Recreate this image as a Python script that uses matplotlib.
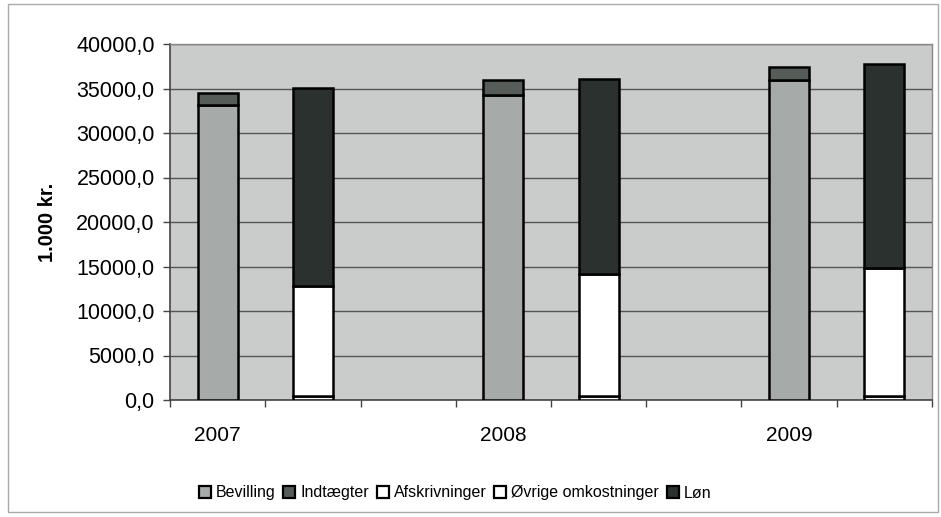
import matplotlib.pyplot as plt
import matplotlib.patches as mpatches
import numpy as np

plt.rcParams['font.family'] = ['Liberation Sans', 'DejaVu Sans']

# data (1.000 kr.)
years = ['2007', '2008', '2009']
bevilling = [33200, 34300, 36000]
indtaegter = [1300, 1600, 1450]
afskrivninger = [500, 500, 500]
ovrige = [12300, 13700, 14300]
lon = [22200, 21900, 22950]

labels = ['Bevilling', 'Indtægter', 'Afskrivninger', 'Øvrige omkostninger', 'Løn']
colors = ['#a6aaa8', '#565d59', '#ffffff', '#ffffff', '#2b312e']

fig = plt.figure(figsize=(9.41, 5.17), dpi=100)
ax = fig.add_axes([170 / 941, 1 - 400 / 517, 762 / 941, 356 / 517])
ax.set_facecolor('#c9cccb')

# each year uses three category slots: income bar, expense bar, gap
idx = np.arange(len(years))
x_inc = idx * 3
x_exp = idx * 3 + 1
w = 0.42
kw = dict(width=w, edgecolor='black', linewidth=1.8, zorder=3)

ax.bar(x_inc, bevilling, color=colors[0], **kw)
ax.bar(x_inc, indtaegter, bottom=bevilling, color=colors[1], **kw)
ax.bar(x_exp, afskrivninger, color=colors[2], **kw)
ax.bar(x_exp, ovrige, bottom=afskrivninger, color=colors[3], **kw)
b2 = np.array(afskrivninger) + np.array(ovrige)
ax.bar(x_exp, lon, bottom=b2, color=colors[4], **kw)

ax.set_xlim(-0.5, 7.5)
ax.set_ylim(0, 40000)
ax.set_yticks(np.arange(0, 40001, 5000))
ax.set_yticklabels([f'{v:.1f}'.replace('.', ',') for v in np.arange(0, 40001, 5000)])
ax.yaxis.grid(True, color='#555555', linewidth=1.0, zorder=1)
ax.set_axisbelow(True)

ax.set_xticks(x_inc)
ax.set_xticklabels(years)
ax.set_xticks(np.arange(-0.5, 8.0, 1), minor=True)
ax.tick_params(axis='x', which='major', length=0, pad=19, labelsize=15)
ax.tick_params(axis='x', which='minor', length=5, width=1, color='#444')
ax.tick_params(axis='y', length=5, width=1, color='#444', labelsize=15.5, pad=6)

for s in ['top', 'right']:
    ax.spines[s].set_color('#888')
    ax.spines[s].set_linewidth(1)
for s in ['left', 'bottom']:
    ax.spines[s].set_color('#444')
    ax.spines[s].set_linewidth(1.2)

ax.set_ylabel('1.000 kr.', fontsize=14.5, fontweight='bold', labelpad=14)

handles = [mpatches.Patch(facecolor=c, edgecolor='black', linewidth=1.6) for c in colors]
fig.legend(handles, labels, loc='center', bbox_to_anchor=(455 / 941, 1 - 493 / 517),
           ncol=5, frameon=False, fontsize=11.5, handlelength=0.75, handleheight=0.75,
           handletextpad=0.3, columnspacing=0.5, borderaxespad=0)

# outer frame of the chart object
fig.patches.append(mpatches.Rectangle((8 / 941, 5 / 517), 930 / 941, 508 / 517,
                                      transform=fig.transFigure, fill=False,
                                      edgecolor='#aaaaaa', linewidth=1))

fig.savefig('out.png', dpi=100)
